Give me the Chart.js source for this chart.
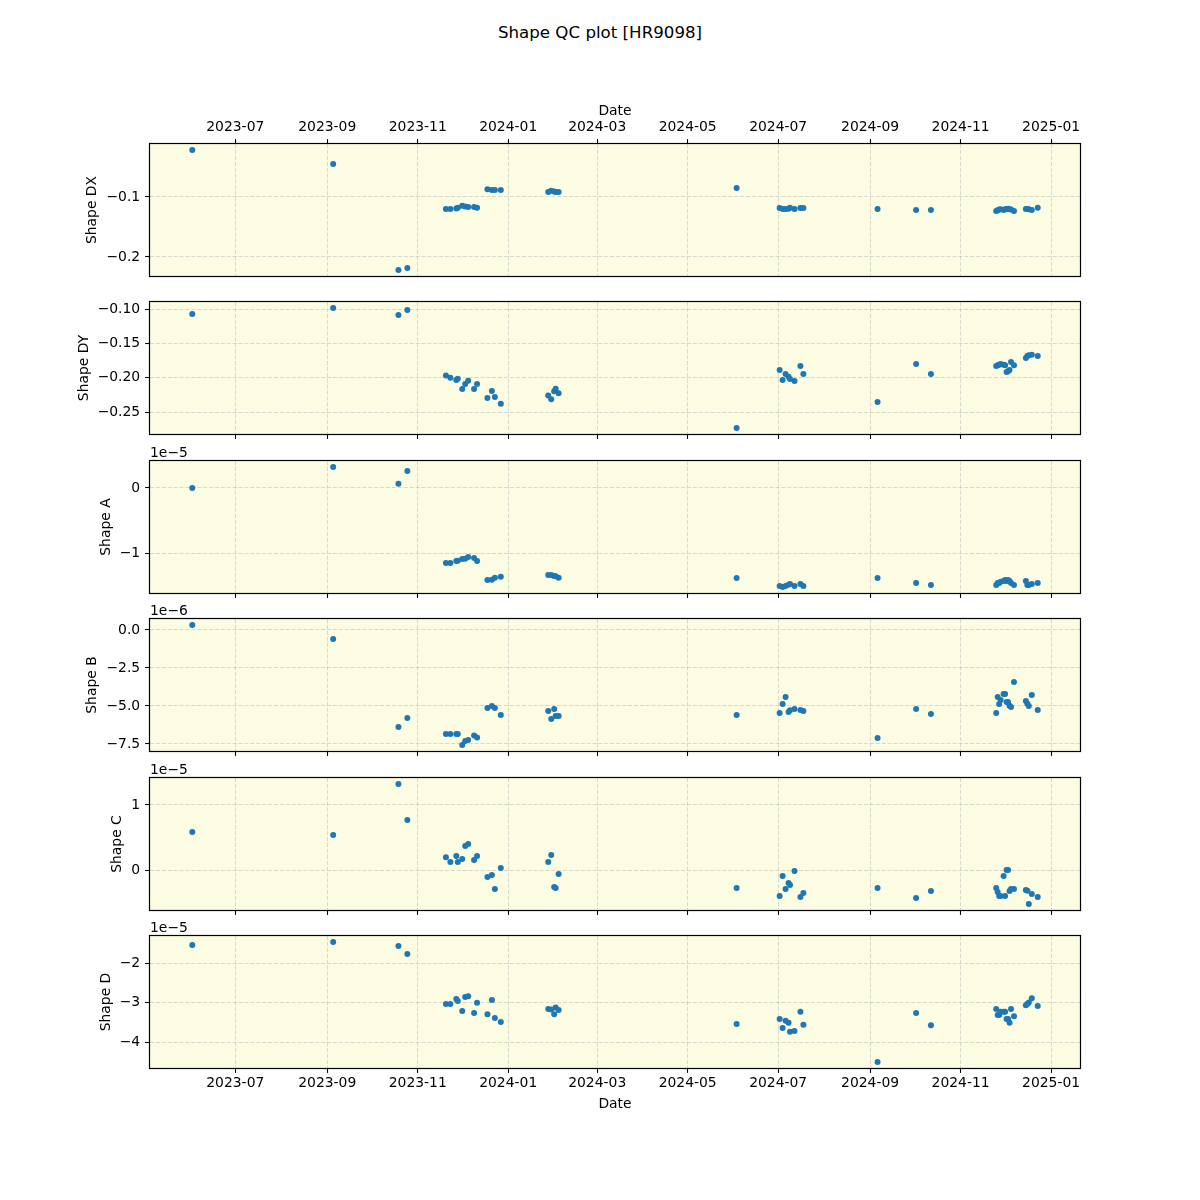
<!DOCTYPE html>
<html><head><meta charset="utf-8">
<script src="https://cdn.jsdelivr.net/npm/chart.js@4.4.1/dist/chart.umd.min.js"></script>
<style>
html,body{margin:0;padding:0;background:#fff;}
#wrap{position:relative;width:1200px;height:1200px;overflow:hidden;background:#fff;}
#title{position:absolute;left:0;width:1200px;top:23px;text-align:center;font-family:'DejaVu Sans';font-size:16.67px;line-height:20px;color:#000;}
canvas{position:absolute;left:0;}
</style></head><body>
<div id="wrap"><div id="title">Shape QC plot [HR9098]</div></div>
<script>
// ---------------- data ----------------
const dates = ['2023-06-02','2023-09-05','2023-10-19','2023-10-25',
 '2023-11-20','2023-11-23','2023-11-27','2023-11-28','2023-12-01','2023-12-03','2023-12-05','2023-12-09','2023-12-11','2023-12-18','2023-12-21','2023-12-23','2023-12-27',
 '2024-01-28','2024-01-30','2024-02-01','2024-02-02','2024-02-04',
 '2024-06-03',
 '2024-07-02','2024-07-04','2024-07-06','2024-07-08','2024-07-09','2024-07-12','2024-07-16','2024-07-18',
 '2024-09-06','2024-10-02','2024-10-12',
 '2024-11-25','2024-11-26','2024-11-27','2024-11-28','2024-11-30','2024-12-01','2024-12-02','2024-12-03','2024-12-04','2024-12-05','2024-12-07',
 '2024-12-15','2024-12-16','2024-12-17','2024-12-19','2024-12-23'];

const shapeDX = [-0.0217, -0.0450, -0.2217, -0.2183,
 -0.1200, -0.1200, -0.1190, -0.1180, -0.1145, -0.1160, -0.1165, -0.1165, -0.1180, -0.0870, -0.0885, -0.0885, -0.0885,
 -0.0917, -0.0895, -0.0910, -0.0917, -0.0917,
 -0.0850,
 -0.1183, -0.1200, -0.1200, -0.1195, -0.1178, -0.1200, -0.1183, -0.1183,
 -0.1200, -0.1217, -0.1217,
 -0.1233, -0.1222, -0.1210, -0.1205, -0.1215, -0.1205, -0.1200, -0.1195, -0.1205, -0.1210, -0.1235,
 -0.1200, -0.1200, -0.1205, -0.1217, -0.1180];

const shapeDY = [-0.1073, -0.0985, -0.1087, -0.1015,
 -0.1970, -0.2000, -0.2034, -0.2015, -0.2165, -0.2092, -0.2044, -0.2165, -0.2092, -0.2296, -0.2194, -0.2282, -0.2379,
 -0.2260, -0.2314, -0.2198, -0.2160, -0.2227,
 -0.2733,
 -0.1888, -0.2034, -0.1947, -0.1985, -0.2019, -0.2049, -0.1830, -0.1947,
 -0.2354, -0.1800, -0.1947,
 -0.1830, -0.1820, -0.1810, -0.1800, -0.1810, -0.1820, -0.1917, -0.1908, -0.1888, -0.1772, -0.1820,
 -0.1714, -0.1684, -0.1675, -0.1665, -0.1684];

const shapeA = [0.000e-5, 0.323e-5, 0.067e-5, 0.262e-5,
 -1.154e-5, -1.154e-5, -1.123e-5, -1.118e-5, -1.092e-5, -1.087e-5, -1.062e-5, -1.077e-5, -1.123e-5, -1.415e-5, -1.410e-5, -1.379e-5, -1.364e-5,
 -1.338e-5, -1.338e-5, -1.354e-5, -1.359e-5, -1.379e-5,
 -1.385e-5,
 -1.508e-5, -1.523e-5, -1.508e-5, -1.490e-5, -1.477e-5, -1.508e-5, -1.477e-5, -1.508e-5,
 -1.385e-5, -1.462e-5, -1.492e-5,
 -1.492e-5, -1.462e-5, -1.462e-5, -1.441e-5, -1.431e-5, -1.415e-5, -1.431e-5, -1.415e-5, -1.431e-5, -1.462e-5, -1.492e-5,
 -1.431e-5, -1.492e-5, -1.492e-5, -1.477e-5, -1.462e-5];

const shapeB = [0.329e-6, -0.592e-6, -6.38e-6, -5.79e-6,
 -6.84e-6, -6.84e-6, -6.84e-6, -6.84e-6, -7.57e-6, -7.30e-6, -7.24e-6, -6.95e-6, -7.08e-6, -5.13e-6, -5.00e-6, -5.13e-6, -5.59e-6,
 -5.33e-6, -5.86e-6, -5.20e-6, -5.66e-6, -5.66e-6,
 -5.59e-6,
 -5.46e-6, -4.87e-6, -4.41e-6, -5.39e-6, -5.28e-6, -5.20e-6, -5.26e-6, -5.33e-6,
 -7.11e-6, -5.20e-6, -5.53e-6,
 -5.46e-6, -4.41e-6, -4.87e-6, -4.61e-6, -4.21e-6, -4.21e-6, -4.74e-6, -4.74e-6, -4.98e-6, -5.07e-6, -3.42e-6,
 -4.67e-6, -4.85e-6, -5.00e-6, -4.28e-6, -5.26e-6];

const shapeC = [0.585e-5, 0.538e-5, 1.323e-5, 0.769e-5,
 0.195e-5, 0.123e-5, 0.215e-5, 0.123e-5, 0.169e-5, 0.369e-5, 0.400e-5, 0.154e-5, 0.215e-5, -0.108e-5, -0.077e-5, -0.292e-5, 0.031e-5,
 0.123e-5, 0.231e-5, -0.262e-5, -0.277e-5, -0.062e-5,
 -0.277e-5,
 -0.400e-5, -0.092e-5, -0.292e-5, -0.200e-5, -0.231e-5, -0.015e-5, -0.415e-5, -0.354e-5,
 -0.277e-5, -0.431e-5, -0.323e-5,
 -0.277e-5, -0.338e-5, -0.400e-5, -0.400e-5, -0.092e-5, -0.400e-5, 0.000e-5, 0.000e-5, -0.323e-5, -0.292e-5, -0.292e-5,
 -0.308e-5, -0.320e-5, -0.523e-5, -0.369e-5, -0.415e-5];

const shapeD = [-1.523e-5, -1.447e-5, -1.549e-5, -1.753e-5,
 -3.03e-5, -3.03e-5, -2.90e-5, -2.95e-5, -3.21e-5, -2.85e-5, -2.83e-5, -3.26e-5, -3.00e-5, -3.29e-5, -2.93e-5, -3.39e-5, -3.49e-5,
 -3.16e-5, -3.17e-5, -3.29e-5, -3.12e-5, -3.18e-5,
 -3.54e-5,
 -3.41e-5, -3.64e-5, -3.46e-5, -3.51e-5, -3.74e-5, -3.72e-5, -3.23e-5, -3.56e-5,
 -4.51e-5, -3.26e-5, -3.57e-5,
 -3.16e-5, -3.31e-5, -3.31e-5, -3.23e-5, -3.23e-5, -3.23e-5, -3.41e-5, -3.41e-5, -3.51e-5, -3.16e-5, -3.34e-5,
 -3.06e-5, -3.03e-5, -2.99e-5, -2.88e-5, -3.08e-5];

// tick labels
const xTickLabels = ['2023-07','2023-09','2023-11','2024-01','2024-03','2024-05','2024-07','2024-09','2024-11','2025-01'];
const dxTicks = [-0.2, -0.1];            const dxTickLabels = ['\u22120.2','\u22120.1'];
const dyTicks = [-0.25, -0.20, -0.15, -0.10]; const dyTickLabels = ['\u22120.25','\u22120.20','\u22120.15','\u22120.10'];
const aTicks = [-1e-5, 0];               const aTickLabels = ['\u22121','0'];
const bTicks = [-7.5e-6, -5e-6, -2.5e-6, 0]; const bTickLabels = ['\u22127.5','\u22125.0','\u22122.5','0.0'];
const cTicks = [0, 1e-5];                const cTickLabels = ['0','1'];
const dTicks = [-4e-5, -3e-5, -2e-5];    const dTickLabels = ['\u22124','\u22123','\u22122'];

// ---------------- layout / style ----------------
const AX_LEFT = 150, AX_RIGHT = 1080, PANEL_TOP0 = 144, PANEL_H = 132, PANEL_STEP = 158.4;
const FONT = 'DejaVu Sans', FS = 13.9;
const GRID = 'rgba(176,176,176,0.6)';
const BG = '#fcfce3';
const DOT = '#1f77b4';

Chart.defaults.font.family = FONT;
Chart.defaults.font.size = FS;
Chart.defaults.color = '#000';

const xVals = dates.map(d => Date.parse(d + 'T00:00:00Z'));
const xTickValues = xTickLabels.map(l => Date.parse(l + '-01T00:00:00Z'));
function padRange(arr) {
  const mn = Math.min(...arr), mx = Math.max(...arr), r = mx - mn;
  return [mn - 0.05 * r, mx + 0.05 * r];
}
const [xMin, xMax] = padRange(xVals);

const framePlugin = {
  id: 'frame',
  beforeDraw(chart) {
    const a = chart.chartArea, ctx = chart.ctx;
    ctx.save(); ctx.fillStyle = BG;
    ctx.fillRect(a.left, a.top, a.right - a.left, a.bottom - a.top);
    ctx.restore();
  },
  afterDraw(chart, args, opts) {
    const a = chart.chartArea, ctx = chart.ctx;
    ctx.save();
    ctx.strokeStyle = '#000'; ctx.lineWidth = 1.2;
    const l = Math.round(a.left) - 0.5, t = Math.round(a.top) - 0.5;
    const r = Math.round(a.right) + 0.5, b = Math.round(a.bottom) + 0.5;
    ctx.strokeRect(l, t, r - l, b - t);
    ctx.font = FS + 'px "' + FONT + '"';
    ctx.fillStyle = '#000';
    let w = 0;
    opts.tickLabels.forEach(s => { w = Math.max(w, ctx.measureText(s).width); });
    const lx = a.left - 4.9 - 4.9 - w - 5.6 - 8;
    ctx.save();
    ctx.translate(lx, (a.top + a.bottom) / 2);
    ctx.rotate(-Math.PI / 2);
    ctx.textAlign = 'center'; ctx.textBaseline = 'middle';
    ctx.fillText(opts.label, 0, 0);
    ctx.restore();
    if (opts.offset) {
      ctx.textAlign = 'left'; ctx.textBaseline = 'alphabetic';
      ctx.fillText(opts.offset, a.left, a.top - 4.5);
    }
    ctx.restore();
  }
};

const panels = [
  {label: 'Shape DX', values: shapeDX, ticks: dxTicks, tickLabels: dxTickLabels, offset: ''},
  {label: 'Shape DY', values: shapeDY, ticks: dyTicks, tickLabels: dyTickLabels, offset: ''},
  {label: 'Shape A',  values: shapeA,  ticks: aTicks,  tickLabels: aTickLabels,  offset: '1e\u22125'},
  {label: 'Shape B',  values: shapeB,  ticks: bTicks,  tickLabels: bTickLabels,  offset: '1e\u22126'},
  {label: 'Shape C',  values: shapeC,  ticks: cTicks,  tickLabels: cTickLabels,  offset: '1e\u22125'},
  {label: 'Shape D',  values: shapeD,  ticks: dTicks,  tickLabels: dTickLabels,  offset: '1e\u22125'}
];

const wrap = document.getElementById('wrap');
panels.forEach((p, i) => {
  const top = Math.round(PANEL_TOP0 + i * PANEL_STEP);
  const isFirst = i === 0, isLast = i === panels.length - 1;
  const padTop = isFirst ? 70 : 24;
  const padBot = isLast ? 60 : 24;
  const H = PANEL_H + padTop + padBot;
  const c = document.createElement('canvas');
  c.width = 1200; c.height = H;
  c.style.width = '1200px'; c.style.height = H + 'px';
  c.style.top = (top - padTop) + 'px';
  wrap.appendChild(c);
  const [yMin, yMax] = padRange(p.values);
  const gridOpts = {color: GRID, lineWidth: 0.8, drawTicks: true, tickLength: 4.9, tickColor: '#000', tickWidth: 1.1, tickBorderDash: []};
  new Chart(c, {
    type: 'scatter',
    data: {datasets: [{
      data: xVals.map((x, k) => ({x: x, y: p.values[k]})),
      backgroundColor: DOT, borderColor: DOT, pointRadius: 3, borderWidth: 0, pointHoverRadius: 3
    }]},
    options: {
      responsive: false, animation: false, devicePixelRatio: 1,
      events: [],
      layout: {padding: {left: 0, right: 1200 - AX_RIGHT, top: isFirst ? 0 : padTop, bottom: isFirst ? padBot : 0}},
      plugins: {legend: {display: false}, tooltip: {enabled: false},
        frame: {label: p.label, tickLabels: p.tickLabels, offset: p.offset}},
      scales: {
        x: {
          type: 'linear', position: isFirst ? 'top' : 'bottom', min: xMin, max: xMax,
          afterBuildTicks: s => { s.ticks = xTickValues.map(v => ({value: v})); },
          afterFit: s => { s.height = isFirst ? padTop : padBot; },
          ticks: {display: isFirst || isLast, autoSkip: false, maxRotation: 0, padding: isFirst ? 3.5 : 2.5,
                  callback: (v, idx) => xTickLabels[idx]},
          grid: gridOpts,
          border: {display: false, dash: [4.1, 1.8]},
          title: {display: isFirst || isLast, text: 'Date',
                  padding: isFirst ? {top: 29.5, bottom: 0} : {top: 0, bottom: 15.5}}
        },
        y: {
          type: 'linear', min: yMin, max: yMax,
          afterBuildTicks: s => { s.ticks = p.ticks.map(v => ({value: v})); },
          afterFit: s => { s.width = AX_LEFT; },
          ticks: {autoSkip: false, padding: 4.9, callback: (v, idx) => p.tickLabels[idx]},
          grid: gridOpts,
          border: {display: false, dash: [4.1, 1.8]}
        }
      }
    },
    plugins: [framePlugin]
  });
});
</script>
</body></html>
